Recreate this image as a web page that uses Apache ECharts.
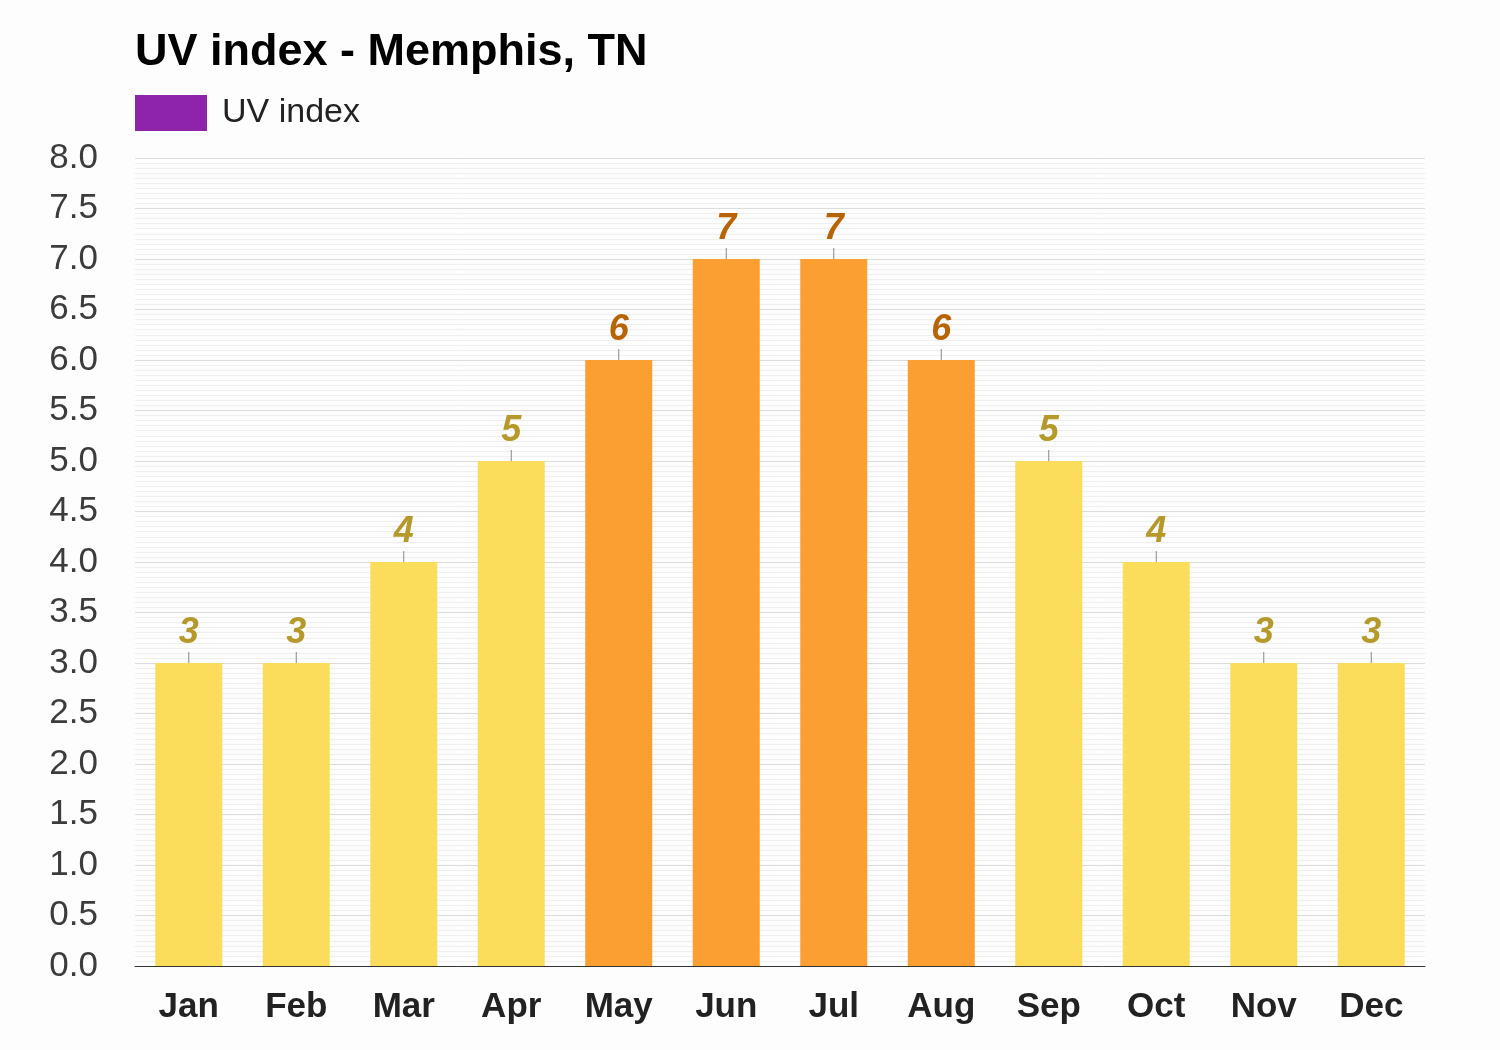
<!DOCTYPE html>
<html><head><meta charset="utf-8">
<script src="https://cdn.jsdelivr.net/npm/echarts@6/dist/echarts.min.js"></script>
<style>html,body{margin:0;padding:0;background:#fcfdfc}#c{width:1500px;height:1050px}</style>
</head><body><div id="c"></div>
<script>
const months = ['Jan','Feb','Mar','Apr','May','Jun','Jul','Aug','Sep','Oct','Nov','Dec'];
const uvIndex = [3,3,4,5,6,7,7,6,5,4,3,3];
const yTicks = ['0.0','0.5','1.0','1.5','2.0','2.5','3.0','3.5','4.0','4.5','5.0','5.5','6.0','6.5','7.0','7.5','8.0'];

const yellow = '#fcdd5b', orange = '#fb9f33';
const yellowLbl = '#b5992a', orangeLbl = '#b86405';
const isHigh = v => v >= 6;

const chart = echarts.init(document.getElementById('c'));
chart.setOption({
  backgroundColor: '#fcfdfc',
  animation: false,
  title: {
    text: 'UV index - Memphis, TN', left: 130, top: 25,
    textStyle: {fontFamily: 'Liberation Sans, Arial', fontSize: 45, fontWeight: 'bold', color: '#000'}
  },
  legend: {
    left: 130, top: 90, itemWidth: 72, itemHeight: 36, itemGap: 10, icon: 'rect',
    data: [{name: 'UV index', itemStyle: {color: '#8e24aa'}}],
    textStyle: {fontFamily: 'Liberation Sans, Arial', fontSize: 34, color: '#222', padding: [0,0,0,10]},
    selectedMode: false
  },
  grid: {left: 135, right: 75, top: 158, bottom: 84, containLabel: false},
  xAxis: {
    type: 'category', data: months,
    axisLine: {lineStyle: {color: '#333', width: 1}},
    axisTick: {show: false},
    axisLabel: {fontFamily: 'Liberation Sans, Arial', fontSize: 35, fontWeight: 'bold', color: '#222', margin: 24}
  },
  yAxis: {
    type: 'value', min: 0, max: 8, interval: 0.5,
    axisLine: {show: false}, axisTick: {show: false},
    axisLabel: {fontFamily: 'Liberation Sans, Arial', fontSize: 35, color: '#3c3c3c', margin: 37,
      formatter: v => yTicks[Math.round(v * 2)]},
    splitLine: {lineStyle: {color: '#dcdcdc', width: 1}},
    minorTick: {show: false, splitNumber: 10},
    minorSplitLine: {show: true, lineStyle: {color: '#efefef', width: 1}}
  },
  series: [
    {
      name: 'UV index', type: 'bar', barWidth: 67,
      data: uvIndex.map(v => ({value: v, itemStyle: {color: isHigh(v) ? orange : yellow},
        label: {color: isHigh(v) ? orangeLbl : yellowLbl}})),
      label: {show: true, position: 'top', distance: 12,
        fontFamily: 'Liberation Sans, Arial', fontSize: 36, fontWeight: 'bold', fontStyle: 'italic'}
    },
    {
      name: 'ticks', type: 'custom', silent: true, z: 5,
      data: uvIndex.map((v, i) => [i, v]),
      renderItem: (params, api) => {
        const p = api.coord([api.value(0), api.value(1)]);
        return {type: 'line', shape: {x1: p[0], y1: p[1] - 11, x2: p[0], y2: p[1]},
          style: {stroke: '#888', lineWidth: 1}};
      }
    }
  ]
});
</script></body></html>
